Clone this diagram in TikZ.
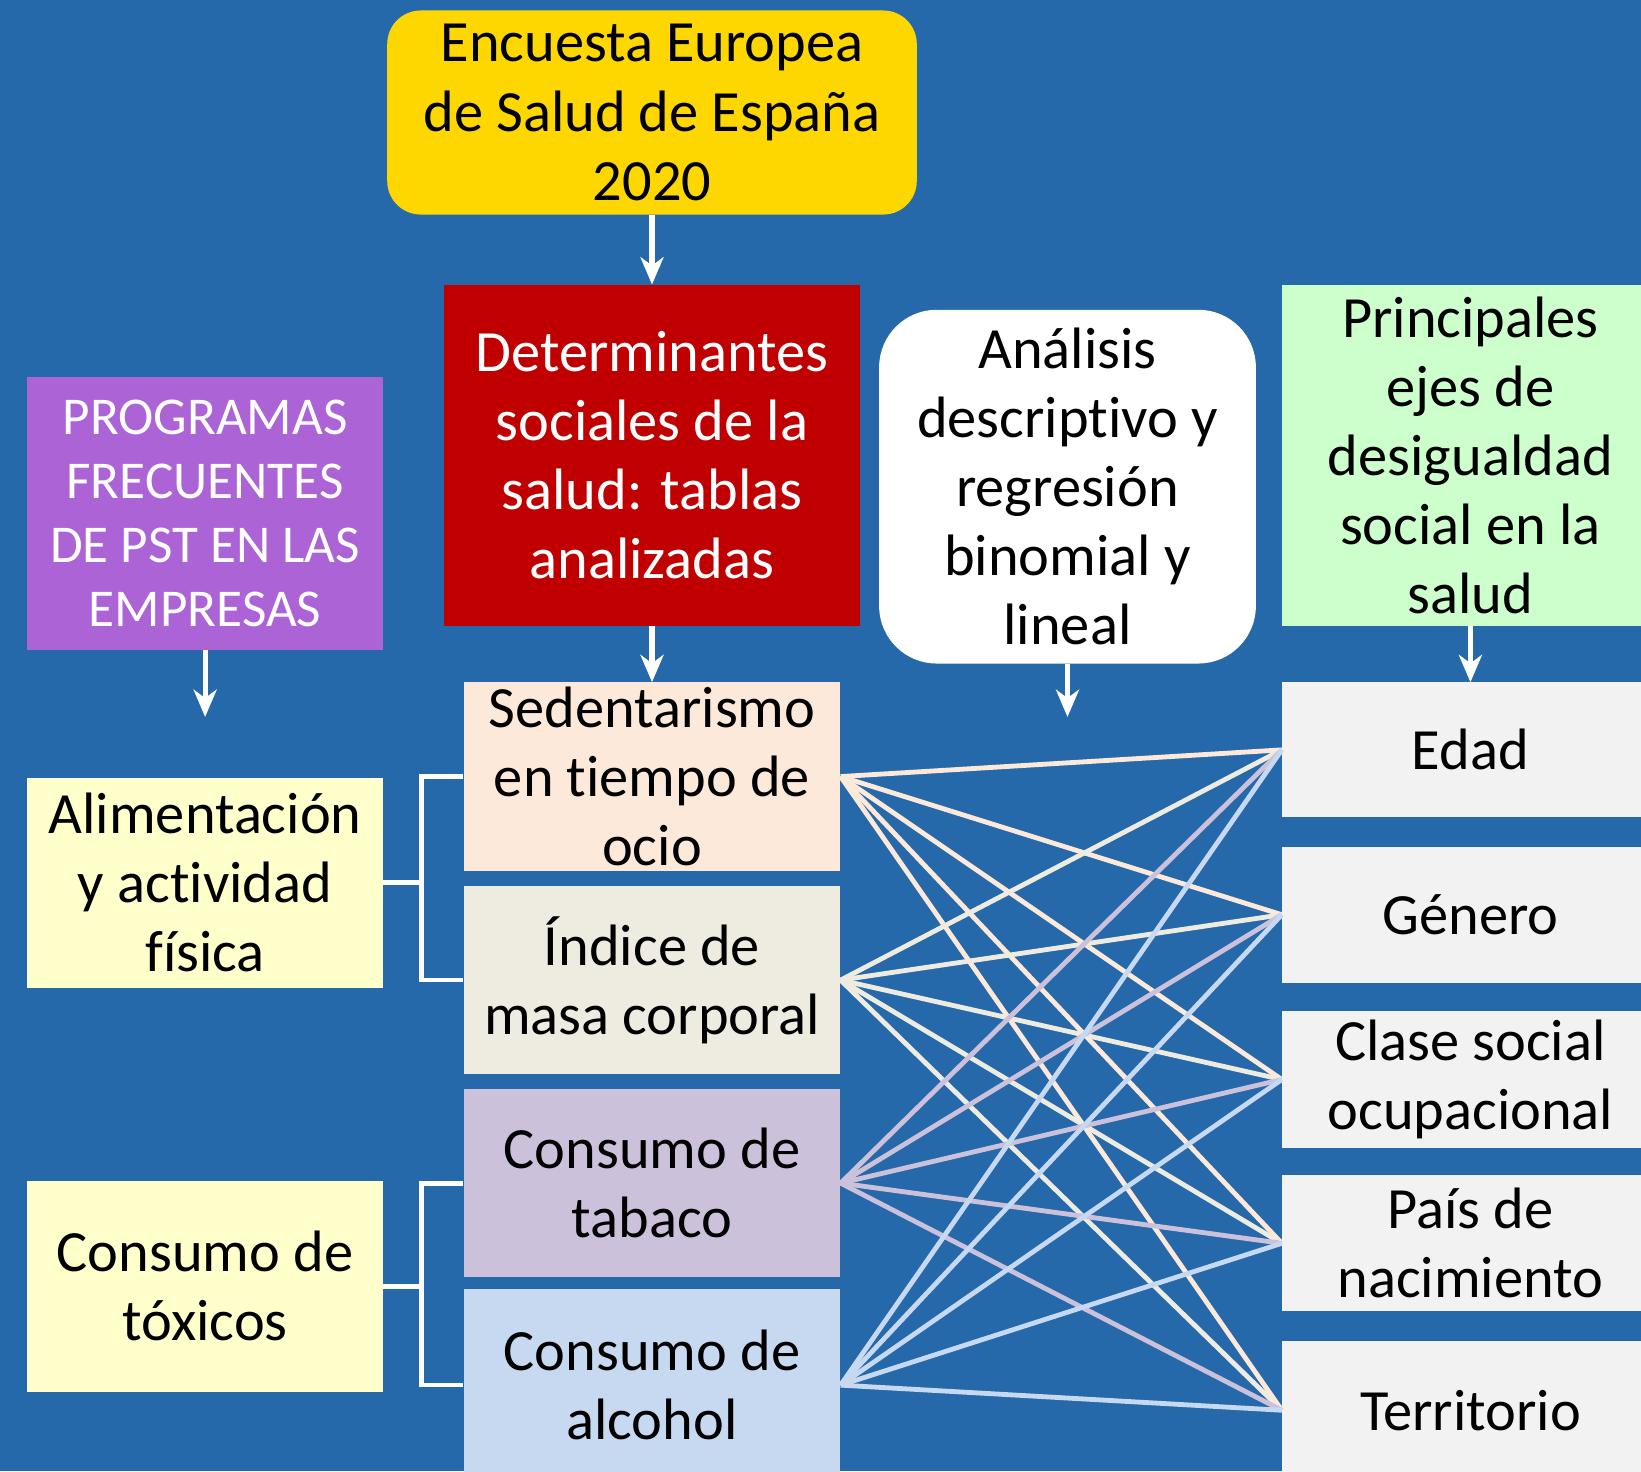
\documentclass[tikz,border=0pt]{standalone}
\usepackage{fontspec}
\setmainfont{Carlito}[Ligatures={NoCommon}]
\usetikzlibrary{arrows.meta}
\definecolor{bg}{HTML}{2669AA}
\definecolor{yellowc}{HTML}{FFD700}
\definecolor{redc}{HTML}{C00000}
\definecolor{greenc}{HTML}{CCFFCC}
\definecolor{purplec}{HTML}{AB63D6}
\definecolor{lyellow}{HTML}{FFFFCC}
\definecolor{peach}{HTML}{FDE9D9}
\definecolor{beige}{HTML}{EEECE1}
\definecolor{lavender}{HTML}{CCC1DA}
\definecolor{lblue}{HTML}{C6D9F1}
\definecolor{greyc}{HTML}{F2F2F2}
\begin{document}
\begin{tikzpicture}[x=1pt,y=-1pt,
  box/.style={inner sep=0pt, align=center, font=\fontsize{55.8}{66}\selectfont},
  arr/.style={draw=white, line width=5pt, -{Stealth[length=26pt,width=22pt,inset=8pt]}},
  link/.style={draw=white, line width=4.5pt},
  cross/.style={line width=4.6pt}]
\fill[bg] (0,0) rectangle (1568,1406);
\useasboundingbox (0,0) rectangle (1568,1406);

\node[box, fill=yellowc, rounded corners=32pt, minimum width=506pt, minimum height=195pt] (top) at (623,107.5) {Encuesta Europea\\de Salud de España\\2020};
\node[box, fill=redc, text=white, minimum width=398pt, minimum height=326pt] (det) at (623,435) {Determinantes\\sociales de la\\salud: tablas\\analizadas};
\node[box, fill=white, rounded corners=55pt, minimum width=360pt, minimum height=338pt] (ana) at (1020,465) {Análisis\\descriptivo y\\regresión\\binomial y\\lineal};
\node[box, fill=greenc, minimum width=360pt, minimum height=326pt] (eje) at (1405,435) {Principales\\ejes de\\desigualdad\\social en la\\salud};
\node[box, fill=purplec, text=white, font=\fontsize{50.8}{61}\selectfont, minimum width=340pt, minimum height=261pt] (pro) at (196,490.5) {PROGRAMAS\\FRECUENTES\\DE PST EN LAS\\EMPRESAS};

\node[box, fill=lyellow, minimum width=340pt, minimum height=201pt] (ali) at (196,843.5) {Alimentación\\y actividad\\física};
\node[box, fill=lyellow, minimum width=340pt, minimum height=202pt] (tox) at (196,1229) {Consumo de\\tóxicos};

\node[box, fill=peach, minimum width=360pt, minimum height=180pt] (sed) at (623,742) {Sedentarismo\\en tiempo de\\ocio};
\node[box, fill=beige, minimum width=360pt, minimum height=179pt] (ind) at (623,936.5) {Índice de\\masa corporal};
\node[box, fill=lavender, minimum width=360pt, minimum height=179pt] (tab) at (623,1130.5) {Consumo de\\tabaco};
\node[box, fill=lblue, minimum width=360pt, minimum height=183pt] (alc) at (623,1323.5) {Consumo de\\alcohol};

\node[box, fill=greyc, minimum width=360pt, minimum height=129pt] (eda) at (1405,716.5) {Edad};
\node[box, fill=greyc, minimum width=360pt, minimum height=130pt] (gen) at (1405,874) {Género};
\node[box, fill=greyc, minimum width=360pt, minimum height=131pt] (cla) at (1405,1031.5) {Clase social\\ocupacional};
\node[box, fill=greyc, minimum width=360pt, minimum height=130pt] (pai) at (1405,1188) {País de\\nacimiento};
\node[box, fill=greyc, minimum width=360pt, minimum height=133pt] (ter) at (1405,1347.5) {Territorio};

\coordinate (pa) at (196,685);
\coordinate (aa) at (1020,685);
\draw[arr] (top.south) -- (det.north);
\draw[arr] (pro.south) -- (pa);
\draw[arr] (det.south) -- (sed.north);
\draw[arr] (ana.south) -- (aa);
\draw[arr] (eje.south) -- (eda.north);

\coordinate (j1) at (403,843.5);
\coordinate (j2) at (403,1229);
\draw[link] (ali.east) -- (j1);
\draw[link] (sed.west) -| (j1) |- (ind.west);
\draw[link] (tox.east) -- (j2);
\draw[link] (tab.west) -| (j2) |- (alc.west);

\foreach \s/\c in {sed/peach, ind/beige, tab/lavender, alc/lblue}
  \foreach \t in {eda,gen,cla,pai,ter}
    \draw[cross, draw=\c] (\s.east) -- (\t.west);
\end{tikzpicture}
\end{document}
